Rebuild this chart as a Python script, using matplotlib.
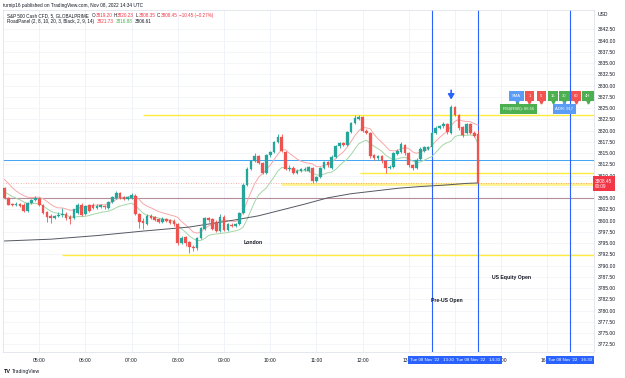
import matplotlib
matplotlib.use("Agg")
import matplotlib.pyplot as plt
import matplotlib.transforms as mtransforms
import numpy as np

plt.rcParams['font.family'] = ['Liberation Sans', 'DejaVu Sans']

# ---------------- data (5-minute candles from 04:15 to 14:30) ----------------
opens = [3807.3, 3805.0, 3803.6, 3803.5, 3803.8, 3803.6, 3802.2, 3803.9, 3804.5, 3804.9,
         3803.4, 3801.9, 3801.1, 3800.6, 3801.0, 3801.2, 3801.6, 3800.9, 3800.6, 3801.8,
         3803.6, 3801.4, 3803.4, 3803.6, 3802.9, 3803.1, 3803.3, 3802.8, 3804.2, 3805.1,
         3806.1, 3805.2, 3804.8, 3805.0, 3805.6, 3801.5, 3799.9, 3799.3, 3801.1, 3800.8,
         3800.3, 3799.8, 3800.4, 3800.1, 3800.0, 3799.3, 3795.0, 3796.3, 3795.3, 3794.2,
         3793.9, 3796.2, 3798.2, 3800.5, 3800.3, 3799.8, 3797.8, 3800.9, 3798.0, 3799.0,
         3798.9, 3799.2, 3801.8, 3808.0, 3811.6, 3813.3, 3814.3, 3812.8, 3810.6, 3814.5,
         3815.3, 3817.5, 3818.7, 3815.3, 3811.6, 3811.8, 3810.7, 3811.0, 3811.3, 3811.0,
         3811.7, 3808.9, 3809.8, 3811.8, 3813.0, 3811.8, 3814.2, 3816.5, 3817.2, 3816.8,
         3819.7, 3821.7, 3822.6, 3823.0, 3820.0, 3819.4, 3814.5, 3813.9, 3814.4, 3813.2,
         3811.8, 3812.0, 3814.8, 3815.2, 3816.8, 3815.0, 3812.4, 3811.8, 3813.8, 3815.6,
         3816.0, 3816.4, 3819.6, 3820.6, 3821.0, 3821.5, 3819.4, 3825.3, 3823.5, 3820.8,
         3819.6, 3821.5, 3819.4, 3819.20]
highs = [3807.6, 3805.3, 3804.0, 3804.1, 3804.0, 3803.9, 3804.1, 3804.8, 3805.6, 3805.2,
         3803.7, 3802.2, 3801.4, 3801.3, 3801.9, 3802.8, 3801.9, 3801.2, 3802.7, 3804.0,
         3803.9, 3803.6, 3803.8, 3803.9, 3803.8, 3803.7, 3803.6, 3804.4, 3805.6, 3806.6,
         3806.4, 3805.5, 3805.5, 3806.1, 3805.9, 3801.8, 3800.5, 3801.4, 3801.6, 3801.0,
         3800.6, 3800.8, 3800.7, 3800.4, 3800.3, 3799.6, 3796.5, 3796.6, 3795.6, 3794.6,
         3796.4, 3798.6, 3800.8, 3800.9, 3800.6, 3800.2, 3801.4, 3801.2, 3799.5, 3799.4,
         3799.6, 3802.0, 3808.3, 3812.0, 3813.6, 3815.0, 3814.6, 3813.1, 3814.8, 3815.6,
         3817.8, 3819.3, 3819.2, 3815.6, 3812.3, 3812.1, 3811.4, 3811.7, 3811.9, 3812.2,
         3812.0, 3810.0, 3812.0, 3813.3, 3813.3, 3814.5, 3816.8, 3817.5, 3817.6, 3820.0,
         3822.0, 3823.6, 3823.6, 3823.3, 3820.4, 3819.7, 3814.8, 3814.7, 3814.7, 3813.5,
         3812.4, 3815.2, 3815.9, 3817.4, 3817.1, 3815.3, 3812.7, 3813.9, 3816.3, 3816.6,
         3816.7, 3819.9, 3821.0, 3821.3, 3822.0, 3821.7, 3825.8, 3825.5, 3823.8, 3821.0,
         3821.8, 3821.8, 3820.0, 3820.23]
lows = [3804.8, 3803.4, 3803.2, 3803.2, 3803.1, 3802.0, 3802.0, 3803.7, 3804.3, 3803.2,
        3801.5, 3799.8, 3799.5, 3800.3, 3800.8, 3800.9, 3800.2, 3799.2, 3800.4, 3801.5,
        3801.0, 3801.2, 3802.0, 3802.6, 3802.5, 3802.9, 3802.7, 3802.6, 3804.0, 3804.9,
        3804.8, 3804.6, 3804.6, 3804.8, 3801.2, 3798.3, 3798.1, 3799.0, 3800.4, 3799.9,
        3799.5, 3799.6, 3799.7, 3799.3, 3798.9, 3794.6, 3794.8, 3794.3, 3792.8, 3793.3,
        3793.6, 3795.9, 3798.0, 3799.8, 3797.9, 3797.5, 3797.6, 3797.8, 3797.8, 3798.6,
        3798.5, 3799.0, 3801.5, 3807.8, 3811.3, 3813.0, 3812.5, 3810.3, 3810.4, 3814.2,
        3815.0, 3817.3, 3815.2, 3811.3, 3811.0, 3810.3, 3810.4, 3810.8, 3811.0, 3810.8,
        3808.4, 3808.6, 3809.6, 3811.6, 3812.0, 3811.5, 3814.0, 3816.2, 3816.5, 3816.6,
        3819.4, 3821.4, 3822.3, 3819.7, 3819.3, 3814.0, 3813.6, 3813.6, 3812.9, 3810.6,
        3811.4, 3811.8, 3814.5, 3815.0, 3814.7, 3812.0, 3811.2, 3811.5, 3813.5, 3815.3,
        3815.7, 3816.0, 3819.3, 3820.3, 3820.7, 3819.3, 3819.2, 3823.3, 3820.2, 3818.7,
        3819.3, 3819.2, 3818.6, 3808.35]
closes = [3805.0, 3803.6, 3803.5, 3803.8, 3803.3, 3802.2, 3803.9, 3804.5, 3805.0, 3803.4,
          3801.7, 3800.9, 3800.6, 3801.0, 3801.3, 3801.6, 3800.5, 3800.3, 3802.5, 3803.6,
          3801.3, 3803.3, 3802.2, 3802.8, 3803.2, 3803.4, 3803.0, 3804.2, 3805.3, 3806.1,
          3805.0, 3804.8, 3805.2, 3805.7, 3801.5, 3799.8, 3799.5, 3801.1, 3800.6, 3800.1,
          3799.8, 3800.4, 3800.0, 3799.6, 3799.2, 3795.0, 3796.2, 3795.1, 3794.2, 3793.9,
          3796.2, 3798.3, 3800.5, 3800.1, 3798.2, 3797.8, 3800.9, 3798.0, 3799.2, 3798.9,
          3799.3, 3801.8, 3808.0, 3811.6, 3813.3, 3814.3, 3812.8, 3810.6, 3814.5, 3815.3,
          3817.5, 3818.7, 3815.5, 3811.6, 3811.8, 3810.6, 3811.0, 3811.4, 3811.5, 3811.9,
          3808.9, 3809.8, 3811.8, 3813.0, 3812.3, 3814.2, 3816.5, 3817.2, 3816.8, 3819.7,
          3821.7, 3822.8, 3823.0, 3820.0, 3819.6, 3814.3, 3813.9, 3814.4, 3813.2, 3811.8,
          3812.0, 3815.0, 3815.6, 3817.0, 3815.0, 3812.4, 3811.8, 3813.6, 3816.0, 3816.3,
          3816.4, 3819.6, 3820.6, 3821.0, 3821.6, 3819.8, 3825.3, 3823.5, 3820.5, 3819.0,
          3821.5, 3819.4, 3818.9, 3808.45]

# long moving average (black), read at sample bars
ma_long_bars = [0, 12, 24, 36, 48, 60, 66, 72, 78, 84, 90, 96, 102, 108, 114, 120, 123]
ma_long_vals = [3795.5, 3795.9, 3796.7, 3797.7, 3798.6, 3800.2, 3801.1, 3802.4, 3803.7,
                3805.1, 3806.0, 3806.6, 3807.2, 3807.6, 3807.9, 3808.3, 3808.4]

# RoadPanel EMAs: pink on highs, green on lows (start values)
pink_len, pink_start = 8, 3809.6
green_len, green_start = 10, 3806.8

# time axis labels (14:00 is completely hidden behind the date boxes in the reference)
hour_labels = ['05:00', '06:00', '07:00', '08:00', '09:00', '10:00', '11:00', '12:00',
               '13:00', '', '15:00', '16:00']
vline_labels = ["Tue 08 Nov '22   13:30", "Tue 08 Nov '22   14:30", "Tue 08 Nov '22   16:30"]

# horizontal drawn levels
blue_level = 3813.4
mauve_level = 3805.1
yellow_levels = [3823.6, 3810.7, 3792.3]
yellow_wide_level = 3808.1
last_price = 3808.45
last_price_text = '3808.45\n00:09'

# ---------------- figure ----------------
W, H = 625, 378
fig = plt.figure(figsize=(W / 100, H / 100), dpi=100)
fig.patch.set_facecolor('white')
PL, PR, PT, PB = 3, 594, 10, 352
ax = fig.add_axes([PL / W, 1 - PB / H, (PR - PL) / W, (PB - PT) / H])

px_per_bar = 3.85
x0_px = 4.55
def xi(px):
    return (px - x0_px) / px_per_bar

ax.set_xlim(xi(PL), xi(PR))
ax.set_ylim(3770.83, 3846.83)

n = len(closes)
idx = np.arange(n)
UP, DN = '#26a69a', '#ef5350'

# grid
hour_pos = [9 + 12 * k for k in range(len(hour_labels))]
for hp in hour_pos:
    ax.axvline(hp, color='#f0f3fa', lw=0.7, zorder=0)
yt = np.arange(3772.5, 3845.0, 2.5)
for yv in yt:
    ax.axhline(yv, color='#f4f5f8', lw=0.6, zorder=0)

# EMAs
pink, green = [], []
e = pink_start
a = 2 / (pink_len + 1)
for h in highs:
    e = e + a * (h - e)
    pink.append(e)
e = green_start
a = 2 / (green_len + 1)
for l in lows:
    e = e + a * (l - e)
    green.append(e)
ax.plot(idx, pink, color='#f7a9a8', lw=0.7, zorder=3)
ax.plot(idx, green, color='#a5d6a7', lw=0.7, zorder=3)
ax.plot(ma_long_bars, ma_long_vals, color='#555862', lw=0.7, zorder=3)

# drawn levels
ax.axhline(blue_level, color='#42a5f5', lw=0.7, zorder=2)
ax.axhline(mauve_level, color='#b58c99', lw=0.8, zorder=2)
ax.hlines(yellow_levels[0], xi(143), xi(PR), color='#ffeb3b', lw=1.0, zorder=2)
ax.hlines(yellow_levels[1], xi(360), xi(PR), color='#ffeb3b', lw=1.0, zorder=2)
ax.hlines(yellow_levels[2], xi(62), xi(PR), color='#ffeb3b', lw=1.0, zorder=2)
ax.hlines(yellow_wide_level, xi(281), xi(PR), color='#fff176', lw=2.2, alpha=0.8, zorder=2)
ax.axhline(last_price, color='#ef5350', lw=0.6, ls=(0, (1, 2)), alpha=0.6, zorder=2)

# vertical time lines
vl_bars = [111, 123, 147]
for vb in vl_bars:
    ax.axvline(vb, color='#2962ff', lw=0.8, zorder=2)

# candles
cols = [UP if c >= o else DN for o, c in zip(opens, closes)]
ax.vlines(idx, lows, highs, colors=cols, lw=0.6, zorder=4)
bottoms = [min(o, c) for o, c in zip(opens, closes)]
heights = [max(abs(c - o), 0.15) for o, c in zip(opens, closes)]
ax.bar(idx, heights, bottom=bottoms, width=0.68, color=cols, edgecolor=cols, lw=0.2, zorder=5)

# arrow on the high
ax.annotate('', xy=(116, 3826.3), xytext=(116, 3829.6),
            arrowprops=dict(arrowstyle='-|>,head_width=0.18,head_length=0.3', color='#2962ff', lw=1.2),
            zorder=6)

# text notes
ax.text(xi(253), 3795.1, 'London', fontsize=3.7, fontweight='bold', color='#131722', ha='center', va='center')
ax.text(xi(447), 3782.2, 'Pre-US Open', fontsize=3.7, fontweight='bold', color='#131722', ha='center', va='center')
ax.text(xi(512), 3787.3, 'US Equity Open', fontsize=3.7, fontweight='bold', color='#131722', ha='center', va='center')

# panel boxes (top right)
row1 = 3827.7
row2 = 3824.8
boxes1 = [(516.5, 'SMA', '#5b9cf6'), (529.5, '1', '#f05350'), (541.5, '5', '#f05350'),
          (553, '15', '#4caf50'), (564.5, '30', '#4caf50'), (576, '60', '#f05350'),
          (588, '4H', '#4caf50')]
for px, lab, col in boxes1:
    ax.text(xi(px), row1, lab, fontsize=3.0, color='white', ha='center', va='center', zorder=7,
            bbox=dict(boxstyle='square,pad=0.75', fc=col, ec='none'))
    ax.plot([xi(px)], [row1 - 1.4], marker='v', ms=2.2, color=col, zorder=7)
ax.plot([xi(516.5)], [row2 + 1.3], marker='^', ms=2.2, color='#4caf50', zorder=7)
ax.plot([xi(564.5)], [row2 + 1.3], marker='^', ms=2.2, color='#5b9cf6', zorder=7)
ax.text(xi(518.5), row2, 'RSI(RSI5): 66.56', fontsize=3.0, color='white', ha='center', va='center', zorder=7,
        bbox=dict(boxstyle='square,pad=0.65', fc='#4caf50', ec='none'))
ax.text(xi(564.5), row2, 'ADR: 917', fontsize=3.0, color='white', ha='center', va='center', zorder=7,
        bbox=dict(boxstyle='square,pad=0.65', fc='#5b9cf6', ec='none'))

# axes styling
for s in ax.spines.values():
    s.set_color('#e0e3eb')
    s.set_linewidth(0.6)
ax.yaxis.tick_right()
ax.set_yticks(yt)
# the 3807.50 label sits under the last-price tag in the reference
ax.set_yticklabels(['' if abs(v - 3807.5) < 0.01 else '%.2f' % v for v in yt])
ax.tick_params(axis='y', length=0, pad=3, labelsize=3.6, labelcolor='#131722')
ax.set_xticks(hour_pos)
ax.set_xticklabels(hour_labels)
ax.tick_params(axis='x', length=0, pad=4, labelsize=3.6, labelcolor='#131722')

# date boxes on the time axis
btr = mtransforms.blended_transform_factory(ax.transData, ax.transAxes)
yb = -(360 - PB) / (PB - PT)
for vb, lab in zip(vl_bars, vline_labels):
    ax.text(vb, yb, lab, transform=btr, fontsize=3.2, color='white', ha='center', va='center',
            zorder=10, clip_on=False,
            bbox=dict(boxstyle='square,pad=0.45', fc='#2962ff', ec='none'))

# last price label
rtr = mtransforms.blended_transform_factory(ax.transAxes, ax.transData)
ax.text(1.002, last_price + 0.9, last_price_text, transform=rtr, fontsize=3.4, color='white',
        ha='left', va='top', linespacing=1.1, clip_on=False, zorder=10,
        bbox=dict(boxstyle='square,pad=0.5', fc='#f23645', ec='none'))

# header texts (pieces chained one after another)
renderer = fig.canvas.get_renderer()
DK, RD, GR = '#131722', '#f23645', '#4caf50'

def chain(x, y, pieces, fs=3.3, gap=1.6):
    cx = x
    for s, col, g in pieces:
        t = fig.text(cx / W, 1 - y / H, s, va='center', ha='left', fontsize=fs, color=col)
        bb = t.get_window_extent(renderer=renderer)
        cx = bb.x1 + g
    return cx

def ft(x, y, s, **kw):
    fig.text(x / W, 1 - y / H, s, va='center', ha='left', **kw)

ft(3, 5, 'turnip16 published on TradingView.com, Nov 08, 2022 14:34 UTC', fontsize=3.4, color=DK)
chain(7, 15.7, [('S&P 500 Cash CFD, 5, GLOBALPRIME', DK, 2.5),
                ('O', DK, 0.3), ('3819.20', RD, 1.5),
                ('H', DK, 0.3), ('3820.23', RD, 1.5),
                ('L', DK, 0.3), ('3808.35', RD, 1.5),
                ('C', DK, 0.3), ('3808.45', RD, 1.8),
                ('\u221210.45 (\u22120.27%)', RD, 0)])
chain(7, 21.5, [('RoadPanel (2, 8, 10, 20, 3, Black, 2, 9, 14)', DK, 2.5), ('3821.73', RD, 2.2),
                ('3816.88', GR, 2.2), ('3806.61', DK, 0)])
ft(598, 14, 'USD', fontsize=3.6, color=DK)
ft(4, 371.5, 'TV', fontsize=4.0, color=DK, fontweight='bold')
ft(11.5, 371.5, 'TradingView', fontsize=3.6, color=DK)

fig.savefig('out.png', dpi=100, facecolor='white')
